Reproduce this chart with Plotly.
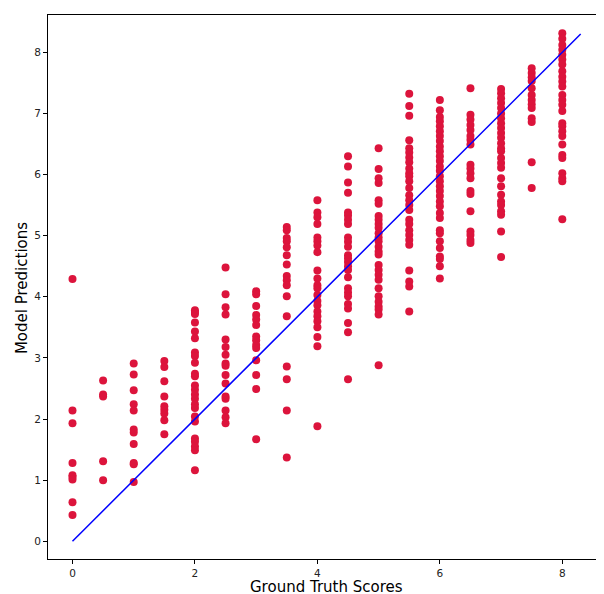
import plotly.graph_objects as go

x_levels = [0, 0.5, 1, 1.5, 2, 2.5, 3, 3.5, 4, 4.5, 5, 5.5, 6, 6.5, 7, 7.5, 8]

pred_0 = [4.29, 2.14, 1.93, 1.28, 1.08, 1.05, 1.01, 0.64, 0.43]
pred_05 = [2.63, 2.40, 2.37, 1.31, 1.00]
pred_1 = [2.91, 2.73, 2.47, 2.24, 2.14, 1.83, 1.78, 1.59, 1.28, 1.26, 0.97]
pred_15 = [2.95, 2.85, 2.62, 2.37, 2.21, 2.15, 2.09, 1.98, 1.75]
pred_2 = [3.78, 3.75, 3.72, 3.58, 3.43, 3.32, 3.09, 3.03, 2.92, 2.74, 2.70, 2.55, 2.48,
          2.40, 2.33, 2.24, 2.18, 2.04, 1.96, 1.68, 1.63, 1.55, 1.49, 1.16]
pred_25 = [4.48, 4.04, 3.83, 3.71, 3.30, 3.18, 3.05, 2.91, 2.87, 2.72, 2.58, 2.37, 2.33,
           2.14, 2.03, 1.93]
pred_3 = [4.09, 4.04, 3.85, 3.70, 3.63, 3.54, 3.35, 3.29, 3.21, 3.16, 2.96, 2.72, 2.49, 1.67]
pred_35 = [5.14, 5.09, 4.96, 4.91, 4.81, 4.68, 4.53, 4.34, 4.27, 4.19, 4.01, 3.68, 2.86,
           2.65, 2.14, 1.37]
pred_4 = [5.58, 5.38, 5.30, 5.19, 4.97, 4.91, 4.84, 4.73, 4.43, 4.30, 4.19, 4.14, 4.03,
          3.93, 3.86, 3.76, 3.68, 3.60, 3.50, 3.34, 3.19, 1.88]
pred_45 = [6.30, 6.13, 5.87, 5.70, 5.38, 5.33, 5.26, 5.19, 4.97, 4.90, 4.82, 4.68, 4.63,
           4.57, 4.50, 4.44, 4.32, 4.14, 4.07, 4.01, 3.88, 3.81, 3.57, 3.42, 2.65]
pred_5 = [6.43, 6.09, 5.94, 5.86, 5.58, 5.52, 5.32, 5.26, 5.19, 5.13, 5.04, 4.97, 4.91,
          4.82, 4.74, 4.69, 4.52, 4.44, 4.36, 4.28, 4.14, 4.01, 3.92, 3.84, 3.79, 3.71, 2.88]
pred_55 = [7.32, 7.12, 6.96, 6.56, 6.43, 6.36, 6.28, 6.20, 6.10, 6.02, 5.97, 5.89, 5.78,
           5.66, 5.58, 5.50, 5.42, 5.26, 5.19, 5.09, 5.01, 4.93, 4.85, 4.43, 4.25, 4.17, 3.76]
pred_6 = [7.22, 7.05, 6.94, 6.87, 6.79, 6.71, 6.63, 6.55, 6.46, 6.38, 6.30, 6.22, 6.13,
          6.06, 5.97, 5.89, 5.81, 5.73, 5.65, 5.56, 5.48, 5.37, 5.29, 5.09, 5.04, 4.91,
          4.80, 4.66, 4.62, 4.50, 4.30]
pred_65 = [7.41, 6.98, 6.90, 6.81, 6.73, 6.63, 6.57, 6.49, 6.16, 6.10, 6.02, 5.94, 5.73,
           5.68, 5.40, 5.07, 5.01, 4.93, 4.88]
pred_7 = [7.40, 7.33, 7.25, 7.17, 7.09, 7.00, 6.92, 6.84, 6.76, 6.68, 6.60, 6.51, 6.43,
          6.38, 6.27, 6.19, 6.11, 5.94, 5.81, 5.67, 5.56, 5.50, 5.40, 5.34, 5.07, 4.65]
pred_75 = [7.74, 7.66, 7.59, 7.53, 7.41, 7.30, 7.22, 7.15, 7.09, 6.92, 6.86, 6.20, 5.78]
pred_8 = [8.31, 8.22, 8.12, 8.04, 7.96, 7.88, 7.80, 7.69, 7.60, 7.52, 7.44, 7.30, 7.22,
          7.14, 7.04, 6.84, 6.79, 6.71, 6.63, 6.49, 6.32, 6.27, 6.02, 5.94, 5.89, 5.27]

groups = [pred_0, pred_05, pred_1, pred_15, pred_2, pred_25, pred_3, pred_35, pred_4,
          pred_45, pred_5, pred_55, pred_6, pred_65, pred_7, pred_75, pred_8]

x_ticks = [0, 2, 4, 6, 8]
y_ticks = [0, 1, 2, 3, 4, 5, 6, 7, 8]

line_x = [0, 8.3]
line_y = [0, 8.3]

xs, ys = [], []
for lv, g in zip(x_levels, groups):
    xs.extend([lv] * len(g))
    ys.extend(g)

fig = go.Figure()
fig.add_trace(go.Scatter(x=xs, y=ys, mode="markers",
                         marker=dict(color="#DC143C", size=8, line=dict(width=0)),
                         showlegend=False))
fig.add_trace(go.Scatter(x=line_x, y=line_y, mode="lines",
                         line=dict(color="blue", width=1.5), showlegend=False))

axis_common = dict(showgrid=False, zeroline=False, showline=True, linecolor="black",
                   linewidth=1, mirror=True, ticks="outside", ticklen=4, tickwidth=1,
                   tickcolor="black", automargin=False,
                   tickfont=dict(family="DejaVu Sans", size=10.5, color="#222"))

fig.update_layout(
    width=604, height=594,
    margin=dict(l=40, r=5, t=7, b=43),
    plot_bgcolor="white", paper_bgcolor="white",
    font=dict(family="DejaVu Sans"),
    xaxis=dict(range=[-0.40, 8.73], tickmode="array", tickvals=x_ticks,
               ticktext=[str(v) for v in x_ticks], **axis_common),
    yaxis=dict(range=[-0.29, 8.61], tickmode="array", tickvals=y_ticks,
               ticktext=[str(v) for v in y_ticks], **axis_common),
    annotations=[
        dict(text="Ground Truth Scores", xref="paper", yref="paper",
             x=0.499, y=-0.0515, xanchor="center", yanchor="middle", showarrow=False,
             borderpad=0,
             font=dict(family="DejaVu Sans", size=15, color="black")),
        dict(text="Model Predictions", xref="paper", yref="paper",
             x=-0.0465, y=0.498, xanchor="center", yanchor="middle", showarrow=False,
             textangle=-90, borderpad=0,
             font=dict(family="DejaVu Sans", size=15, color="black")),
    ],
)

fig.write_html("out.html")
